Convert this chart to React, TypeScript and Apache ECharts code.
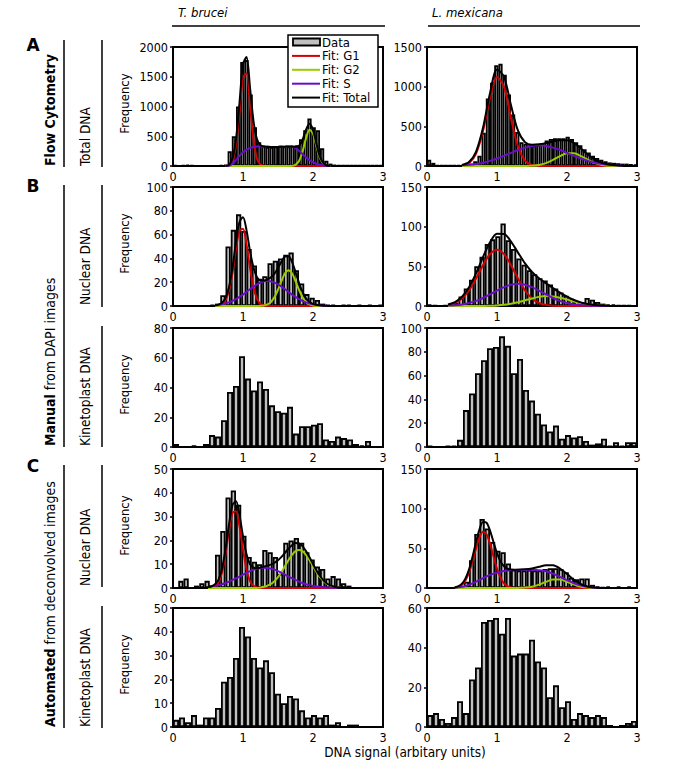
import React, { useEffect, useRef } from "react";
import * as echarts from "echarts";

const FONT = '"DejaVu Sans Condensed", "DejaVu Sans", sans-serif';

// ---- histogram counts (bins spanning 0..3) ----
const tbFlowBars = [10, 5, 10, 20, 10, 5, 5, 5, 5, 5, 5, 10, 20, 250, 500, 1000, 1750, 1780, 1200, 650, 400, 340, 320, 320, 330, 340, 330, 330, 340, 350, 450, 600, 800, 650, 600, 300, 90, 40, 20, 10, 10, 10, 10, 10, 10, 10, 10, 10, 15, 10];
const lmFlowBars = [80, 40, 10, 10, 10, 10, 10, 10, 10, 20, 30, 60, 130, 420, 850, 1050, 1270, 1290, 1150, 900, 650, 430, 300, 280, 260, 260, 270, 290, 320, 340, 350, 350, 350, 370, 340, 300, 260, 210, 170, 130, 100, 80, 60, 45, 40, 35, 30, 30, 25, 20];
const tbNucManBars = [0, 0, 0, 0, 0, 0, 0, 1, 2, 9, 50, 64, 77, 63, 48, 34, 23, 25, 36, 38, 40, 43, 45, 30, 19, 10, 7, 5, 2, 1, 1, 0, 1, 1, 0, 1, 0, 1, 0, 1];
const lmNucManBars = [2, 1, 0, 1, 2, 4, 12, 22, 33, 50, 62, 78, 84, 88, 104, 83, 72, 60, 52, 45, 40, 35, 32, 27, 22, 17, 13, 9, 6, 5, 10, 8, 5, 3, 2, 2, 1, 1, 1, 0];
const tbKinManBars = [2, 0, 0, 1, 0, 2, 8, 7, 18, 37, 41, 61, 46, 38, 44, 39, 28, 24, 23, 27, 9, 14, 14, 15, 16, 5, 4, 7, 6, 5, 2, 1, 4, 0, 0];
const lmKinManBars = [1, 0, 0, 1, 1, 6, 31, 45, 62, 73, 83, 84, 93, 85, 62, 74, 48, 39, 28, 19, 13, 18, 7, 10, 8, 9, 5, 2, 3, 7, 1, 4, 1, 4, 4];
const tbNucAutoBars = [0, 3, 4, 0, 1, 2, 3, 1, 14, 24, 38, 41, 35, 22, 13, 11, 10, 16, 15, 13, 6, 19, 20, 21, 19, 15, 12, 9, 8, 4, 5, 4, 2, 1, 0, 0, 0, 0, 0, 0];
const lmNucAutoBars = [0, 0, 0, 0, 0, 1, 2, 8, 35, 68, 87, 75, 58, 47, 45, 31, 23, 22, 22, 23, 22, 22, 24, 25, 25, 24, 20, 13, 11, 12, 12, 4, 2, 1, 2, 0, 2, 0, 2, 0];
const tbKinAutoBars = [3, 4, 2, 5, 1, 4, 4, 8, 19, 21, 29, 42, 38, 29, 25, 28, 23, 14, 10, 13, 12, 7, 4, 5, 4, 5, 1, 2, 0, 1, 1, 0, 0, 0, 0];
const lmKinAutoBars = [6, 7, 4, 2, 5, 13, 7, 24, 30, 53, 54, 55, 47, 55, 36, 37, 37, 44, 33, 30, 15, 21, 10, 13, 4, 7, 6, 5, 6, 5, 1, 0, 1, 2, 3];

// ---- fitted curves (x positions and read values) ----
const tbFlowFitX = [0.75, 0.8, 0.85, 0.9, 0.95, 1.0, 1.05, 1.1, 1.15, 1.2, 1.25, 1.3, 1.35, 1.4, 1.45, 1.5, 1.55, 1.6, 1.65, 1.7, 1.75, 1.8, 1.85, 1.9, 1.95, 2.0, 2.05, 2.1, 2.15, 2.2, 2.25];
const tbFlowG1 = [2, 14, 88, 350, 892, 1480, 1560, 1019, 438, 121, 21, 3, 0, 0, 0, 0, 0, 0, 0, 0, 0, 0, 0, 0, 0, 0, 0, 0, 0, 0, 0];
const tbFlowG2 = [0, 0, 0, 0, 0, 0, 0, 0, 0, 0, 0, 0, 0, 0, 0, 0, 0, 0, 0, 3, 19, 83, 239, 464, 610, 543, 327, 133, 37, 7, 0];
const tbFlowS = [0, 5, 40, 100, 170, 230, 270, 300, 318, 328, 328, 325, 322, 320, 320, 320, 322, 325, 328, 325, 300, 255, 200, 145, 100, 65, 38, 20, 8, 2, 0];
const tbFlowTotal = [2, 19, 128, 450, 1062, 1710, 1830, 1319, 756, 449, 349, 328, 322, 320, 320, 320, 322, 325, 328, 328, 319, 338, 439, 609, 710, 608, 365, 153, 45, 9, 0];

const lmFlowFitX = [0.5, 0.6, 0.7, 0.8, 0.9, 1.0, 1.1, 1.2, 1.3, 1.4, 1.5, 1.6, 1.7, 1.8, 1.9, 2.0, 2.1, 2.2, 2.3, 2.4, 2.5, 2.6, 2.7, 2.8];
const lmFlowG1 = [6, 36, 153, 440, 853, 1121, 997, 600, 244, 68, 12, 1, 0, 0, 0, 0, 0, 0, 0, 0, 0, 0, 0, 0];
const lmFlowG2 = [0, 0, 0, 0, 0, 0, 0, 0, 0, 1, 4, 13, 36, 76, 125, 160, 160, 125, 76, 36, 13, 4, 1, 0];
const lmFlowS = [8, 15, 26, 42, 65, 94, 128, 165, 201, 232, 253, 260, 253, 232, 201, 165, 128, 94, 65, 42, 26, 15, 8, 4];
const lmFlowTotal = [14, 51, 179, 482, 918, 1215, 1125, 765, 445, 301, 269, 274, 289, 308, 326, 325, 288, 219, 141, 78, 39, 19, 9, 4];

const tbNucManFitX = [0.6, 0.65, 0.7, 0.75, 0.8, 0.85, 0.9, 0.95, 1.0, 1.05, 1.1, 1.15, 1.2, 1.25, 1.3, 1.35, 1.4, 1.45, 1.5, 1.55, 1.6, 1.65, 1.7, 1.75, 1.8, 1.85, 1.9, 1.95, 2.0, 2.05, 2.1, 2.15, 2.2];
const tbNucManG1 = [0, 0.3, 1.3, 4.7, 13, 28, 48, 63, 65, 52, 32, 16, 6, 1.7, 0.4, 0, 0, 0, 0, 0, 0, 0, 0, 0, 0, 0, 0, 0, 0, 0, 0, 0, 0];
const tbNucManG2 = [0, 0, 0, 0, 0, 0, 0, 0, 0, 0, 0, 0, 0, 0.1, 0.4, 1.3, 3.4, 7.5, 13.7, 21, 27.5, 30, 27.5, 21, 13.7, 7.5, 3.4, 1.3, 0.4, 0.1, 0, 0, 0];
const tbNucManS = [0.6, 0.9, 1.4, 2.1, 3.0, 4.3, 5.8, 7.6, 9.6, 11.8, 14.1, 16.3, 18.2, 19.7, 20.7, 21, 20.7, 19.7, 18.2, 16.3, 14.1, 11.8, 9.6, 7.6, 5.8, 4.3, 3.0, 2.1, 1.4, 0.9, 0.6, 0.3, 0.2];
const tbNucManTotal = [0.6, 1.2, 2.7, 6.8, 16, 32.3, 53.8, 70.6, 74.6, 63.8, 46.1, 32.3, 24.2, 21.5, 21.5, 22.3, 24.1, 27.2, 31.9, 37.3, 41.6, 41.8, 37.1, 28.6, 19.5, 11.8, 6.4, 3.4, 1.8, 1.0, 0.6, 0.3, 0.2];

const lmNucManFitX = [0.3, 0.4, 0.5, 0.6, 0.7, 0.8, 0.9, 1.0, 1.1, 1.2, 1.3, 1.4, 1.5, 1.6, 1.7, 1.8, 1.9, 2.0, 2.1, 2.2, 2.3, 2.4, 2.5, 2.6];
const lmNucManG1 = [1.4, 4, 9.6, 19.7, 34.6, 51.5, 65.5, 71, 65.5, 51.5, 34.6, 19.7, 9.6, 4, 1.4, 0.4, 0.1, 0, 0, 0, 0, 0, 0, 0];
const lmNucManG2 = [0, 0, 0, 0, 0.1, 0.1, 0.3, 0.7, 1.5, 2.8, 4.7, 7.1, 9.5, 11.5, 12.5, 12.1, 10.4, 8.1, 5.6, 3.5, 1.9, 1, 0.4, 0.2];
const lmNucManS = [0.5, 1, 2, 3.8, 6.4, 10.1, 14.6, 19.4, 23.8, 26.9, 28, 26.9, 23.8, 19.4, 14.6, 10.1, 6.4, 3.8, 2, 1, 0.5, 0.2, 0.1, 0];
const lmNucManTotal = [1.9, 5, 11.6, 23.5, 41.1, 61.7, 80.4, 91.1, 90.8, 81.2, 67.3, 53.7, 42.9, 34.9, 28.5, 22.6, 16.9, 11.9, 7.6, 4.5, 2.4, 1.2, 0.5, 0.2];

const tbNucAutoFitX = [0.5, 0.55, 0.6, 0.65, 0.7, 0.75, 0.8, 0.85, 0.9, 0.95, 1.0, 1.05, 1.1, 1.15, 1.2, 1.25, 1.3, 1.35, 1.4, 1.45, 1.5, 1.55, 1.6, 1.65, 1.7, 1.75, 1.8, 1.85, 1.9, 1.95, 2.0, 2.05, 2.1, 2.15, 2.2, 2.25, 2.3, 2.35, 2.4];
const tbNucAutoG1 = [0, 0.1, 0.7, 2.3, 6.5, 14.2, 24, 31.5, 32.3, 25.8, 16.1, 7.8, 2.9, 0.9, 0.2, 0, 0, 0, 0, 0, 0, 0, 0, 0, 0, 0, 0, 0, 0, 0, 0, 0, 0, 0, 0, 0, 0, 0, 0];
const tbNucAutoG2 = [0, 0, 0, 0, 0, 0, 0, 0, 0, 0, 0, 0, 0, 0, 0, 0.2, 0.5, 1.0, 1.7, 2.9, 4.6, 6.7, 9.2, 11.7, 13.9, 15.5, 16, 15.5, 13.9, 11.7, 9.2, 6.7, 4.6, 2.9, 1.7, 1.0, 0.5, 0.2, 0.1];
const tbNucAutoS = [0.45, 0.65, 0.9, 1.2, 1.6, 2.1, 2.7, 3.4, 4.1, 4.8, 5.6, 6.4, 7.1, 7.7, 8.1, 8.4, 8.5, 8.4, 8.1, 7.7, 7.1, 6.4, 5.6, 4.8, 4.1, 3.4, 2.7, 2.1, 1.6, 1.2, 0.9, 0.65, 0.45, 0.3, 0.2, 0.1, 0.1, 0.05, 0];
const tbNucAutoTotal = [0.45, 0.75, 1.6, 3.5, 8.1, 16.3, 26.7, 34.9, 36.4, 30.6, 21.7, 14.2, 10.0, 8.6, 8.3, 8.6, 9.0, 9.4, 9.8, 10.6, 11.7, 13.1, 14.8, 16.5, 18.0, 18.9, 18.7, 17.6, 15.5, 12.9, 10.1, 7.35, 5.05, 3.2, 1.9, 1.1, 0.6, 0.25, 0.1];

const lmNucAutoFitX = [0.4, 0.45, 0.5, 0.55, 0.6, 0.65, 0.7, 0.75, 0.8, 0.85, 0.9, 0.95, 1.0, 1.05, 1.1, 1.15, 1.2, 1.25, 1.3, 1.4, 1.5, 1.6, 1.7, 1.8, 1.9, 2.0, 2.1, 2.2, 2.3, 2.4, 2.5];
const lmNucAutoG1 = [0.5, 1.5, 4.1, 9.6, 19.3, 33.3, 49.6, 63.8, 70.8, 67.7, 55.9, 39.8, 24.4, 12.9, 5.9, 2.3, 0.8, 0.3, 0, 0, 0, 0, 0, 0, 0, 0, 0, 0, 0, 0, 0];
const lmNucAutoG2 = [0, 0, 0, 0, 0, 0, 0, 0, 0, 0, 0, 0, 0, 0, 0, 0, 0, 0, 0.1, 0.5, 1.7, 4.2, 7.8, 10.6, 10.6, 7.8, 4.2, 1.7, 0.5, 0.1, 0];
const lmNucAutoS = [0.3, 0.8, 1.5, 2.6, 4, 5.8, 8, 10.2, 12.5, 14.6, 16.5, 18.1, 19.5, 20.6, 21.5, 22, 22.5, 22.8, 23, 23, 23, 22.5, 21, 18, 14, 10, 6, 3, 1.2, 0.4, 0];
const lmNucAutoTotal = [0.8, 2.3, 5.6, 12.2, 23.3, 39.1, 57.6, 74.0, 83.3, 82.3, 72.4, 57.9, 43.9, 33.5, 27.4, 24.3, 23.3, 23.1, 23.1, 23.5, 24.7, 26.7, 28.8, 28.6, 24.6, 17.8, 10.2, 4.7, 1.7, 0.5, 0];

// ---- axis / legend setup ----
const xMin = 0;
const xMax = 3;
const xStep = 1;
const legendNames = ["Data", "Fit: G1", "Fit: G2", "Fit: S", "Fit: Total"];
const fitColors = ["#d40000", "#99cc00", "#6a0dc8", "#000000"];
const BAR_FILL = "#c0c0c0";

type Fit = { x: number[]; g1: number[]; g2: number[]; s: number[]; total: number[] };
type Panel = { row: number; col: number; bars: number[]; yMax: number; yStep: number; fit?: Fit };

const panels: Panel[] = [
  { row: 0, col: 0, bars: tbFlowBars, yMax: 2000, yStep: 500, fit: { x: tbFlowFitX, g1: tbFlowG1, g2: tbFlowG2, s: tbFlowS, total: tbFlowTotal } },
  { row: 0, col: 1, bars: lmFlowBars, yMax: 1500, yStep: 500, fit: { x: lmFlowFitX, g1: lmFlowG1, g2: lmFlowG2, s: lmFlowS, total: lmFlowTotal } },
  { row: 1, col: 0, bars: tbNucManBars, yMax: 100, yStep: 20, fit: { x: tbNucManFitX, g1: tbNucManG1, g2: tbNucManG2, s: tbNucManS, total: tbNucManTotal } },
  { row: 1, col: 1, bars: lmNucManBars, yMax: 150, yStep: 50, fit: { x: lmNucManFitX, g1: lmNucManG1, g2: lmNucManG2, s: lmNucManS, total: lmNucManTotal } },
  { row: 2, col: 0, bars: tbKinManBars, yMax: 80, yStep: 20 },
  { row: 2, col: 1, bars: lmKinManBars, yMax: 100, yStep: 20 },
  { row: 3, col: 0, bars: tbNucAutoBars, yMax: 50, yStep: 10, fit: { x: tbNucAutoFitX, g1: tbNucAutoG1, g2: tbNucAutoG2, s: tbNucAutoS, total: tbNucAutoTotal } },
  { row: 3, col: 1, bars: lmNucAutoBars, yMax: 150, yStep: 50, fit: { x: lmNucAutoFitX, g1: lmNucAutoG1, g2: lmNucAutoG2, s: lmNucAutoS, total: lmNucAutoTotal } },
  { row: 4, col: 0, bars: tbKinAutoBars, yMax: 50, yStep: 10 },
  { row: 4, col: 1, bars: lmKinAutoBars, yMax: 60, yStep: 20 },
];

const colLeft = [173, 427];
const rowTop = [47, 187, 328, 469, 608];
const plotW = 210;
const plotH = 119;

function buildOption() {
  const grid: any[] = [];
  const xAxis: any[] = [];
  const yAxis: any[] = [];
  const series: any[] = [];
  const labelStyle = { fontSize: 12.5, color: "#000", fontFamily: FONT };

  panels.forEach((p, i) => {
    grid.push({
      left: colLeft[p.col], top: rowTop[p.row], width: plotW, height: plotH,
      show: true, borderColor: "#000", borderWidth: 2, backgroundColor: "transparent",
    });
    xAxis.push({
      type: "value", gridIndex: i, min: xMin, max: xMax, interval: xStep,
      axisLine: { show: false }, axisTick: { show: false }, splitLine: { show: false },
      axisLabel: { ...labelStyle, margin: 4, formatter: (v: number) => String(v) },
    });
    xAxis.push({
      type: "category", gridIndex: i, show: false, boundaryGap: true,
      data: p.bars.map((_, k) => String(k)),
    });
    yAxis.push({
      type: "value", gridIndex: i, min: 0, max: p.yMax, interval: p.yStep,
      axisLine: { show: false },
      axisTick: { show: true, length: 3, lineStyle: { color: "#000", width: 1.5 } },
      splitLine: { show: false },
      axisLabel: { ...labelStyle, margin: 5, formatter: (v: number) => String(v) },
    });
    series.push({
      type: "bar", name: "Data", xAxisIndex: 2 * i + 1, yAxisIndex: i,
      data: p.bars, barCategoryGap: "0%", barGap: "0%", silent: true,
      itemStyle: { color: BAR_FILL, borderColor: "#000", borderWidth: 1.8 },
    });
    if (p.fit) {
      const f = p.fit;
      const curves = [f.g1, f.g2, f.s, f.total];
      curves.forEach((vals, c) => {
        series.push({
          type: "line", name: legendNames[c + 1], xAxisIndex: 2 * i, yAxisIndex: i,
          data: f.x.map((xv, k) => [xv, vals[k]]),
          showSymbol: false, symbol: "none", smooth: 0.3, silent: true,
          lineStyle: { color: fitColors[c], width: 2 }, itemStyle: { color: fitColors[c] },
        });
      });
    }
  });

  const txt = (text: string, x: number, y: number, extra: any = {}, rot = 0) => ({
    type: "text", x, y, rotation: rot, silent: true, z: 100,
    style: { text, fill: "#000", fontSize: 13, fontFamily: FONT, textAlign: "center", textVerticalAlign: "middle", ...extra },
  });
  const ln = (x1: number, y1: number, x2: number, y2: number, color = "#000", w = 1.5) => ({
    type: "line", silent: true, z: 100, shape: { x1, y1, x2, y2 }, style: { stroke: color, lineWidth: w },
  });
  const R = Math.PI / 2;
  const bold = { fontWeight: "bold", fontSize: 14, fontFamily: FONT };
  const up = { textAlign: "left", fontSize: 13.5 };
  const graphic: any[] = [
    txt("T. brucei", 178, 12, { fontStyle: "italic", textAlign: "left" }),
    ln(172, 26, 385, 26),
    txt("L. mexicana", 432, 12, { fontStyle: "italic", textAlign: "left" }),
    ln(428, 26, 640, 26),
    txt("A", 33, 45, { fontWeight: "bold", fontSize: 17, fontFamily: '"DejaVu Sans", sans-serif' }),
    txt("B", 33, 186, { fontWeight: "bold", fontSize: 17, fontFamily: '"DejaVu Sans", sans-serif' }),
    txt("C", 33, 466, { fontWeight: "bold", fontSize: 17, fontFamily: '"DejaVu Sans", sans-serif' }),
    txt("Flow Cytometry", 50, 166, { ...up, fontWeight: "bold", fontSize: 14 }, R),
    txt("{b|Manual} from DAPI images", 50, 446, { ...up, fontSize: 14, rich: { b: bold } }, R),
    txt("{b|Automated} from deconvolved images", 50, 727, { ...up, fontSize: 14, rich: { b: bold } }, R),
    txt("Total DNA", 85, 166, up, R),
    txt("Nuclear DNA", 85, 305, up, R),
    txt("Kinetoplast DNA", 85, 446, up, R),
    txt("Nuclear DNA", 85, 586, up, R),
    txt("Kinetoplast DNA", 85, 727, up, R),
    ln(64, 40, 64, 167), ln(64, 185, 64, 447), ln(64, 465, 64, 728),
    ln(102, 40, 102, 167), ln(102, 185, 102, 307), ln(102, 326, 102, 447),
    ln(102, 465, 102, 587), ln(102, 606, 102, 728),
    txt("DNA signal (arbitary units)", 405, 752, { fontSize: 13.5 }),
  ];
  rowTop.forEach((t) => graphic.push(txt("Frequency", 124, t + plotH / 2 - 3, { fontSize: 13 }, R)));

  // legend box (drawn manually so the line keys have no markers)
  const lgX = 288, lgY = 35, lgW = 90, lgH = 72, lgStep = 13.9;
  graphic.push({ type: "rect", z: 100, silent: true, shape: { x: lgX, y: lgY, width: lgW, height: lgH }, style: { fill: "#fff", stroke: "#000", lineWidth: 1.5 } });
  legendNames.forEach((name, k) => {
    const cy = lgY + 7 + k * lgStep;
    if (k === 0) {
      graphic.push({ type: "rect", z: 101, silent: true, shape: { x: 293, y: cy - 3.5, width: 27, height: 7 }, style: { fill: BAR_FILL, stroke: "#000", lineWidth: 1.8 } });
    } else {
      graphic.push({ ...ln(292, cy, 320, cy, fitColors[k - 1], 2), z: 101 });
    }
    graphic.push({ ...txt(name, 322, cy, { textAlign: "left", fontSize: 13 }), z: 101 });
  });

  return {
    animation: false,
    backgroundColor: "#fff",
    grid, xAxis, yAxis, series,
    graphic,
  };
}

export default function App() {
  const ref = useRef<HTMLDivElement>(null);
  useEffect(() => {
    if (!ref.current) return;
    const chart = echarts.init(ref.current, undefined, { renderer: "svg" });
    chart.setOption(buildOption() as any);
    return () => chart.dispose();
  }, []);
  return <div ref={ref} style={{ position: "absolute", left: 0, top: 0, width: 685, height: 764, background: "#fff" }} />;
}
